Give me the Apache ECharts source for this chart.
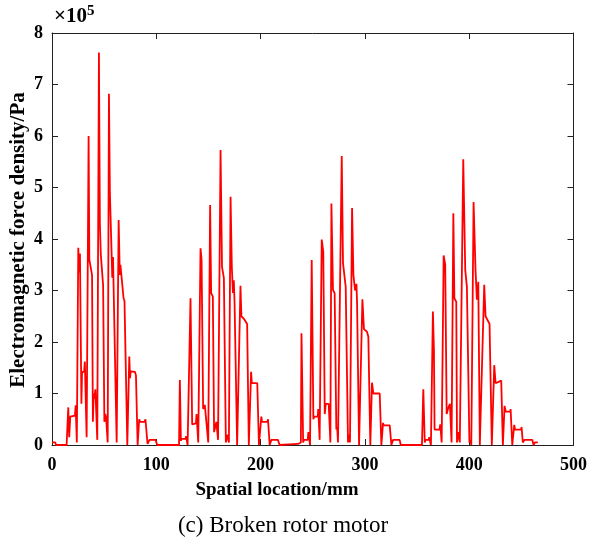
<!DOCTYPE html>
<html>
<head>
<meta charset="utf-8">
<script src="https://cdn.jsdelivr.net/npm/echarts@6/dist/echarts.min.js"></script>
<style>
  html, body { margin: 0; padding: 0; background: #fff; }
  #chart { width: 590px; height: 552px; }
</style>
</head>
<body>
<div id="chart"></div>
<script>
// spatial position (mm) and force density (x1e5 Pa), one pair of arrays per pole group
const posPole1 = [0, 3, 4, 14, 15.6, 16.5, 17.5, 22, 22.7, 23.8, 25.2, 26, 26.8, 28.2, 28.8, 30.8, 31.5, 33.2,
  35.1, 35.8, 38.4, 39.2, 40, 40.6, 41.6, 43.4, 45.0, 45.9, 46.8, 49.0, 50.2, 51, 51.8, 53.4,
  54.6, 55.5, 57.8, 58.5, 59.2, 62, 63.9, 65.0, 65.6, 68.6, 69.5, 72.2, 74.1, 74.8, 75.4, 79.5, 80.5, 82.1,
  83.6, 84.5, 88.6, 89.6, 91.6, 93.5, 99.3, 100.9, 121.8];
const valPole1 = [0.05, 0.05, 0, 0, 0.73, 0.15, 0.55, 0.57, 0.77, 0.05, 3.83, 3.35, 3.72, 0.8, 1.42, 1.42, 1.62, 0.15,
  6.0, 3.6, 3.3, 0.45, 1.0, 0.9, 1.08, 0.1, 7.62, 4.3, 3.7, 3.1, 0.45, 0.6, 0.55, 0.05,
  6.82, 4.9, 3.25, 3.65, 3.65, 0.05, 4.37, 3.3, 3.5, 2.85, 2.8, 0, 1.72, 1.3, 1.43, 1.42, 1.35, 0,
  0.5, 0.45, 0.45, 0.5, 0.02, 0.1, 0.1, 0, 0];

const posPole2 = [122.6, 123.6, 124, 128, 128.6, 130, 132.8, 134.4, 138, 138.6, 140.2, 142.4, 143.4, 144.9, 146.5, 148, 149.8,
  151.6, 152.6, 154.2, 155.4, 156.5, 157.6, 159.2, 161.6, 163, 164.8, 166.7, 167.8, 169.6,
  171.2, 172.4, 173.5, 174.3, 175, 177.5, 180.7, 181.6, 184, 187.1, 188.7, 190.9, 191.6, 196.8, 198.4,
  200.7, 201.4, 206.5, 207.1, 208.7, 210.3, 216.6, 218.2, 236];
const valPole2 = [1.26, 0.08, 0.12, 0.12, 0.17, 0, 2.85, 0.4, 0.42, 0.6, 0.05, 3.82, 3.6, 0.7, 0.78, 0.8, 0.05,
  4.66, 2.95, 2.88, 0.25, 0.35, 0.45, 0.1, 5.73, 3.46, 3.24, 0.05, 0.2, 0.05,
  4.82, 3.46, 2.95, 3.2, 2.8, 0, 3.09, 2.5, 2.45, 2.35, 0, 1.42, 1.2, 1.2, 0,
  0.55, 0.45, 0.45, 0.5, 0, 0.1, 0.1, 0, 0.02];

const posPole3 = [238.6, 239.2, 240.8, 241.5, 245.2, 245.8, 247.4, 249, 250.6, 251.3, 254.8, 255.3, 256.6,
  258.6, 260.1, 261.5, 262.5, 265.3, 266.9, 267.9, 269.4, 271, 272.6, 273.4, 274.2,
  277.8, 279, 281.6, 283.8, 284.7, 285.7, 287.7, 289, 290.6, 291.9, 292.5, 294.4,
  297.6, 299.1, 302, 303.3, 305.2, 306.8, 308.1, 314.2, 315.8, 317.4, 318, 323.8, 325.4, 327, 333.3, 334.4];
const valPole3 = [0.05, 2.17, 0.05, 0.1, 0.1, 0.25, 0, 3.59, 0.5, 0.55, 0.55, 0.7, 0.1,
  3.99, 3.75, 0.6, 0.8, 0.8, 0.05, 4.69, 3.01, 2.95, 0.3, 0.35, 0.05,
  5.61, 3.53, 3.07, 0.05, 0.2, 0.05, 4.6, 3.3, 3.0, 3.13, 2.75, 0,
  2.83, 2.25, 2.2, 2.1, 0, 1.21, 1.0, 1.0, 0, 0.43, 0.38, 0.38, 0, 0.1, 0.1, 0];

const posPole4 = [354.7, 356, 357.4, 358, 361.2, 361.7, 363.3, 365.2, 366.2, 366.8, 371.5, 372.3, 373.6,
  375.5, 377, 378.4, 379.6, 381.5, 383.1, 384.8, 385.8, 387.6, 388.3, 389.5, 391,
  394.3, 396.2, 397.8, 400.2, 401.2, 402, 404.2, 406.1, 407.4, 408.7, 410.2,
  414.4, 415.7, 417, 419.5, 421.7, 424, 425.3, 430.7, 432.3, 433.9, 435, 439.5, 439.7, 441.3,
  443.2, 444, 449.8, 450.2, 451.4, 453.1, 460.5, 461.7, 463, 465.8];
const valPole4 = [0, 1.08, 0.05, 0.1, 0.1, 0.15, 0, 2.59, 1.84, 0.3, 0.3, 0.4, 0.05,
  3.68, 3.5, 0.6, 0.7, 0.8, 0.05, 4.5, 2.85, 2.78, 0.05, 0.25, 0.05,
  5.55, 3.4, 3.07, 0.05, 0.1, 0, 4.72, 3.37, 2.82, 3.17, 0,
  3.11, 2.5, 2.45, 2.35, 0, 1.55, 1.2, 1.25, 0, 0.76, 0.65, 0.65, 0.7, 0,
  0.39, 0.3, 0.3, 0.35, 0.05, 0.1, 0.1, 0, 0.05, 0.05];

const xTicks = [0, 100, 200, 300, 400, 500];
const yTicks = [0, 1, 2, 3, 4, 5, 6, 7, 8];

const positions = [...posPole1, ...posPole2, ...posPole3, ...posPole4];
const values = [...valPole1, ...valPole2, ...valPole3, ...valPole4];
const lineData = positions.map((x, i) => [x, values[i]]);

const serif = '"Liberation Serif", "Times New Roman", serif';
const labelStyle = { fontFamily: serif, fontWeight: 'bold', fontSize: 18, color: '#000' };
const axisLine = { show: true, onZero: false, lineStyle: { color: '#222', width: 1 } };
const tick = { show: true, inside: true, length: 6, lineStyle: { color: '#222' } };

const chart = echarts.init(document.getElementById('chart'));

chart.setOption({
  animation: false,
  backgroundColor: '#fff',
  grid: { left: 52, top: 33, width: 522, height: 412, containLabel: false },
  xAxis: [
    {
      type: 'value', min: xTicks[0], max: xTicks[xTicks.length - 1], interval: 100,
      axisLine, axisTick: tick, splitLine: { show: false },
      axisLabel: { ...labelStyle, margin: 11 },
    },
    {
      type: 'value', position: 'top', min: xTicks[0], max: xTicks[xTicks.length - 1], interval: 100,
      axisLine, axisTick: tick, splitLine: { show: false }, axisLabel: { show: false },
    },
  ],
  yAxis: [
    {
      type: 'value', min: yTicks[0], max: yTicks[yTicks.length - 1], interval: 1,
      axisLine, axisTick: tick, splitLine: { show: false },
      axisLabel: { ...labelStyle, margin: 9 },
    },
    {
      type: 'value', position: 'right', min: yTicks[0], max: yTicks[yTicks.length - 1], interval: 1,
      axisLine, axisTick: tick, splitLine: { show: false }, axisLabel: { show: false },
    },
  ],
  graphic: [
    {
      type: 'text', left: 54, top: 4,
      style: {
        text: '×10{s|5}',
        font: 'bold 21px ' + serif, fill: '#000',
        rich: { s: { fontFamily: serif, fontWeight: 'bold', fontSize: 15, verticalAlign: 'top', padding: [0, 0, 10, 0] } },
      },
    },
    {
      type: 'text', x: 277, y: 490,
      style: { text: 'Spatial location/mm', font: 'bold 19px ' + serif, fill: '#000', align: 'center', verticalAlign: 'middle' },
    },
    {
      type: 'text', x: 19, y: 240, rotation: Math.PI / 2,
      style: { text: 'Electromagnetic force density/Pa', font: 'bold 21px ' + serif, fill: '#000', align: 'center', verticalAlign: 'middle' },
    },
    {
      type: 'text', x: 283, y: 526,
      style: { text: '(c) Broken rotor motor', font: '23px ' + serif, fill: '#000', align: 'center', verticalAlign: 'middle' },
    },
  ],
  series: [
    {
      type: 'line',
      xAxisIndex: 0, yAxisIndex: 0,
      data: lineData,
      showSymbol: false,
      lineStyle: { color: '#ff0000', width: 1.8 },
    },
  ],
});
</script>
</body>
</html>
